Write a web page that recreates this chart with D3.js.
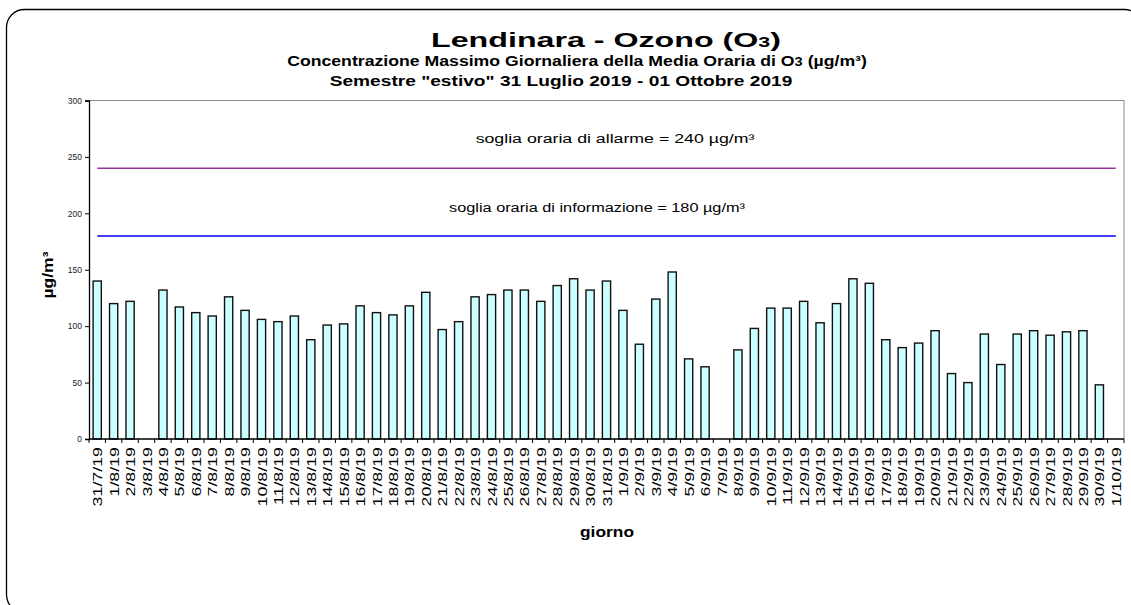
<!DOCTYPE html>
<html>
<head>
<meta charset="utf-8">
<script src="https://cdn.jsdelivr.net/npm/d3@7"></script>
<style>
  body { margin: 0; background: #fff; }
  text { font-family: Arial, "Liberation Sans", sans-serif; }
</style>
</head>
<body>
<script>
// days from 31/7/19 to 1/10/19
let days = ["31/7/19"];
for (let d = 1; d <= 31; d++) days.push(d + "/8/19");
for (let d = 1; d <= 30; d++) days.push(d + "/9/19");
days.push("1/10/19");

// daily max of hourly mean (null = no data)
let augValues = [120, 122, null, 132, 117, 112, 109, 126, 114, 106, 104, 109, 88, 101, 102, 118,
                 112, 110, 118, 130, 97, 104, 126, 128, 132, 132, 122, 136, 142, 132, 140];
let sepValues = [114, 84, 124, 148, 71, 64, null, 79, 98, 116, 116, 122, 103, 120, 142, 138,
                 88, 81, 85, 96, 58, 50, 93, 66, 93, 96, 92, 95, 96, 48];
let o3 = [140].concat(augValues, sepValues, [null]);

let yTicks = [0, 50, 100, 150, 200, 250, 300];
let thresholds = [
  {value: 240, color: "#993399", label: "soglia oraria di allarme = 240 µg/m³"},
  {value: 180, color: "#0000ee", label: "soglia oraria di informazione = 180 µg/m³"}
];

let W = 1131, H = 605;
let margin = {top: 100.5, left: 89, right: 7, bottom: 166};
let width = W - margin.left - margin.right;
let height = H - margin.top - margin.bottom;

let svg = d3.select("body").append("svg")
    .attr("width", W)
    .attr("height", H);

// stretch a centred text horizontally so it is as wide as in the picture
function fit(sel, x, y, target) {
  let w = sel.node().getComputedTextLength();
  sel.attr("x", 0).attr("y", 0)
     .attr("transform", "translate(" + x + "," + y + ") scale(" + (target / w) + ",1)");
}

// outer chart frame
svg.append("rect")
    .attr("x", 6.5).attr("y", 9.5)
    .attr("width", 1136).attr("height", 603)
    .attr("rx", 18).attr("ry", 18)
    .attr("fill", "none").attr("stroke", "#000").attr("stroke-width", 1.3);

// titles
let title = svg.append("text")
    .attr("text-anchor", "middle")
    .attr("font-size", 21).attr("font-weight", "bold");
title.append("tspan").text("Lendinara - Ozono (O");
title.append("tspan").attr("font-size", 14).text("3");
title.append("tspan").text(")");
fit(title, 606, 47, 350);

let sub1 = svg.append("text")
    .attr("text-anchor", "middle")
    .attr("font-size", 14.5).attr("font-weight", "bold");
sub1.append("tspan").text("Concentrazione  Massimo Giornaliera della Media Oraria di O");
sub1.append("tspan").attr("font-size", 12).text("3");
sub1.append("tspan").text(" (µg/m³)");
fit(sub1, 577, 66, 580);

let sub2 = svg.append("text")
    .attr("text-anchor", "middle")
    .attr("font-size", 14.5).attr("font-weight", "bold")
    .text("Semestre \"estivo\" 31 Luglio 2019 - 01 Ottobre 2019");
fit(sub2, 561, 86, 463);

let g = svg.append("g")
    .attr("transform", "translate(" + margin.left + "," + margin.top + ")");

let xScale = d3.scaleBand().domain(days).range([0, width]).paddingInner(0.5).paddingOuter(0.25);
let xPoint = d3.scalePoint().domain(days).range([0, width]).padding(0.5);
let yScale = d3.scaleLinear().domain([0, 300]).range([height, 0]);

// plot area border (top / right)
g.append("path")
    .attr("d", "M0,0H" + width + "V" + height)
    .attr("fill", "none").attr("stroke", "#888").attr("stroke-width", 1);

// bars
g.selectAll(".bar")
    .data(days.map((d, i) => ({day: d, v: o3[i]})).filter(d => d.v != null))
  .enter().append("rect")
    .attr("class", "bar")
    .attr("x", d => xScale(d.day))
    .attr("width", xScale.bandwidth())
    .attr("y", d => yScale(d.v))
    .attr("height", d => height - yScale(d.v))
    .attr("fill", "#ccffff")
    .attr("stroke", "#111").attr("stroke-width", 1.4);

// threshold lines
let line = d3.line().x(d => xPoint(d)).y(0);
thresholds.forEach(t => {
  g.append("path")
      .attr("d", line(days))
      .attr("transform", "translate(0," + yScale(t.value) + ")")
      .attr("fill", "none").attr("stroke", t.color).attr("stroke-width", 1.5);
});

let lab1 = g.append("text")
    .attr("text-anchor", "middle").attr("font-size", 13.5)
    .text(thresholds[0].label);
fit(lab1, 615 - margin.left, yScale(240) - 25, 279);
let lab2 = g.append("text")
    .attr("text-anchor", "middle").attr("font-size", 13.5)
    .text(thresholds[1].label);
fit(lab2, 597 - margin.left, yScale(180) - 24, 296);

// y axis
let yAxis = g.append("g")
    .call(d3.axisLeft(yScale).tickValues(yTicks).tickSize(4).tickPadding(3));
yAxis.select(".domain").attr("stroke", "#000").attr("stroke-width", 1.3);
yAxis.selectAll("text").attr("font-size", 8.5).attr("fill", "#222");

// x axis: ticks on category boundaries
let xAxis = g.append("g")
    .attr("transform", "translate(0," + height + ")");
xAxis.append("line")
    .attr("x1", 0).attr("x2", width)
    .attr("stroke", "#000").attr("stroke-width", 1.3);
xAxis.selectAll(".tk")
    .data(days.concat(["end"]))
  .enter().append("line")
    .attr("x1", (d, i) => i * xScale.step())
    .attr("x2", (d, i) => i * xScale.step())
    .attr("y1", 0).attr("y2", 4)
    .attr("stroke", "#000");
xAxis.selectAll(".lbl")
    .data(days)
  .enter().append("text")
    .attr("transform", d => "translate(" + (xPoint(d) + 5) + ",8) rotate(-90) scale(1.32,1)")
    .attr("text-anchor", "end")
    .attr("font-size", 13.5)
    .text(d => d);

// axis titles
let yTitle = svg.append("text")
    .attr("text-anchor", "middle")
    .attr("font-size", 14).attr("font-weight", "bold")
    .text("µg/m³");
yTitle.attr("transform", "translate(53,275) rotate(-90) scale(1.25,1)");

let xTitle = svg.append("text")
    .attr("text-anchor", "middle")
    .attr("font-size", 14).attr("font-weight", "bold")
    .text("giorno");
fit(xTitle, 607, 537, 54);
</script>
</body>
</html>
